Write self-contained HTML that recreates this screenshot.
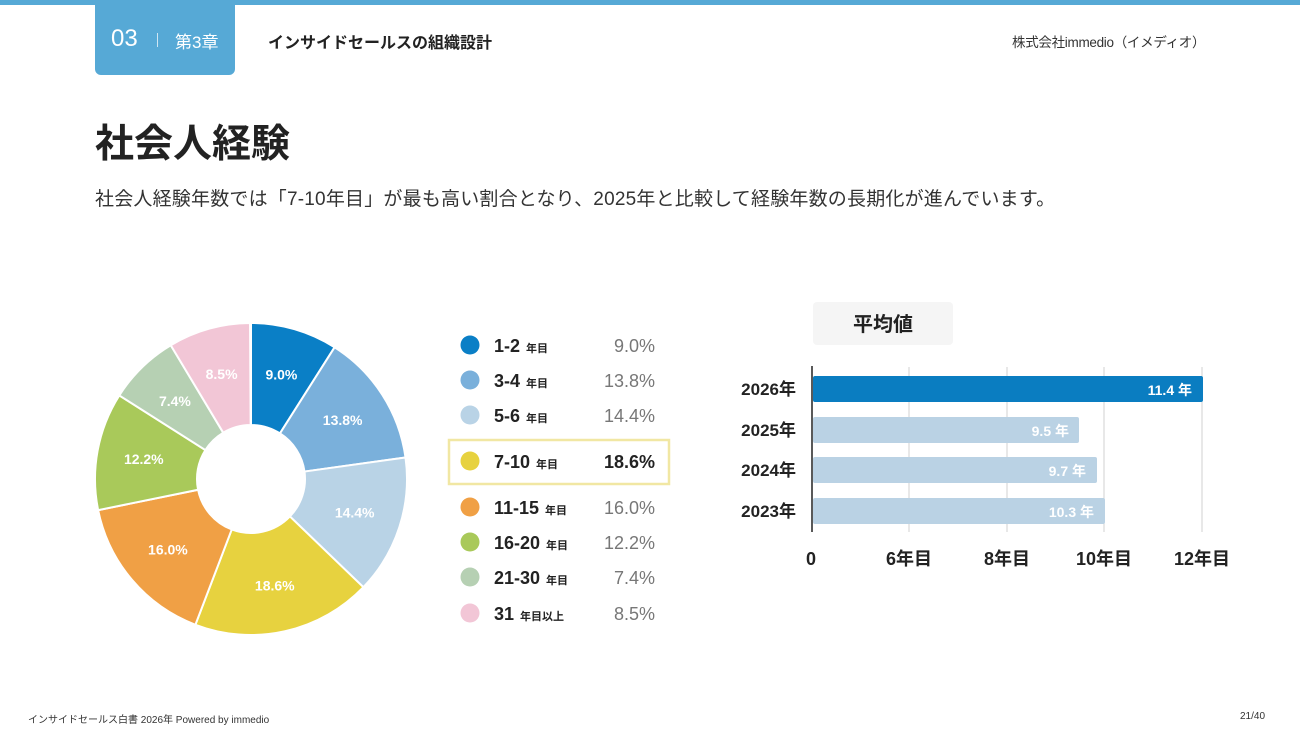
<!DOCTYPE html>
<html><head><meta charset="utf-8">
<style>
body{margin:0;width:1300px;height:731px;background:#fff;position:relative;overflow:hidden;font-family:"Liberation Sans","Noto Sans CJK JP",sans-serif;color:#222}
.abs{position:absolute;white-space:nowrap}
</style></head><body>
<div class="abs" style="left:0;top:0;width:1300px;height:5px;background:#56a9d6"></div>
<div class="abs" style="left:95px;top:0;width:140px;height:75px;background:#56a9d6;border-radius:0 0 6px 6px"></div>
<div class="abs" style="left:111px;top:25px;font-size:24px;color:#fff">03</div>
<div class="abs" style="left:157px;top:33px;width:1px;height:14px;background:#cfe6f3"></div>
<div class="abs" style="left:175px;top:28px;font-size:17px;color:#fff">第3章</div>
<div class="abs" style="left:268px;top:29px;font-size:16px;font-weight:bold">インサイドセールスの組織設計</div>
<div class="abs" style="left:1012px;top:31px;font-size:13.5px;color:#333;letter-spacing:-0.3px">株式会社immedio（イメディオ）</div>
<div class="abs" style="left:95px;top:113px;font-size:39px;font-weight:bold;color:#222">社会人経験</div>
<div class="abs" style="left:95px;top:184px;font-size:19px;color:#333;letter-spacing:0.2px">社会人経験年数では「7-10年目」が最も高い割合となり、2025年と比較して経験年数の長期化が進んでいます。</div>
<div class="abs" style="left:28px;top:711px;font-size:10px;color:#333">インサイドセールス白書 2026年 Powered by immedio</div>
<div class="abs" style="left:1240px;top:711px;font-size:10px;color:#333">21/40</div>

<svg class="abs" style="left:0;top:0" width="1300" height="731" id="s">
<rect x="449" y="440" width="220" height="44" fill="none" stroke="#f1e7a3" stroke-width="2.5"/>
<rect x="813" y="302" width="140" height="43" rx="4" fill="#f5f5f5"/>
<text x="883" y="331" font-size="20" font-weight="bold" text-anchor="middle" fill="#222">平均値</text>
<g stroke="#d0d0d0" stroke-width="1"><line x1="909" y1="367" x2="909" y2="532"/><line x1="1007" y1="367" x2="1007" y2="532"/><line x1="1104" y1="367" x2="1104" y2="532"/><line x1="1202" y1="367" x2="1202" y2="532"/></g>
<rect x="813" y="376" width="390" height="26" rx="2" fill="#0a7dc1"/>
<rect x="813" y="417" width="266" height="26" rx="2" fill="#bad2e4"/>
<rect x="813" y="457" width="284" height="26" rx="2" fill="#bad2e4"/>
<rect x="813" y="498" width="292" height="26" rx="2" fill="#bad2e4"/>
<line x1="812" y1="366" x2="812" y2="532" stroke="#222" stroke-width="1.5"/>
<g font-size="14" font-weight="bold" fill="#fff" text-anchor="end"><text x="1192" y="395">11.4 年</text><text x="1069" y="436">9.5 年</text><text x="1086" y="476">9.7 年</text><text x="1094" y="517">10.3 年</text></g>
<g font-size="17" font-weight="bold" fill="#222" text-anchor="end"><text x="796" y="395">2026年</text><text x="796" y="436">2025年</text><text x="796" y="476">2024年</text><text x="796" y="517">2023年</text></g>
<g font-size="18" font-weight="bold" fill="#222" text-anchor="middle"><text x="811" y="565">0</text><text x="909" y="565">6年目</text><text x="1007" y="565">8年目</text><text x="1104" y="565">10年目</text><text x="1202" y="565">12年目</text></g>
<g id="pie"></g><g id="leg"></g>
</svg>
<script>
var d=[[9.0,"#0a7fc6","1-2"],[13.8,"#7ab0db","3-4"],[14.4,"#b9d3e6","5-6"],[18.6,"#e7d23f","7-10"],[16.0,"#f0a045","11-15"],[12.2,"#a9c95a","16-20"],[7.4,"#b6d0b3","21-30"],[8.5,"#f2c6d6","31"]];
var cx=251,cy=479,R=156,r=54,a=0,h="",L="",ys=[345,380,415,461,507,542,577,613];
function p(an,rr){var t=(an/100*360-90)*Math.PI/180;return [cx+rr*Math.cos(t),cy+rr*Math.sin(t)];}
d.forEach(function(e,i){var b=a+e[0],l=e[0]>50?1:0,A=p(a,R),B=p(b,R),C=p(b,r),D=p(a,r);
h+='<path d="M'+A+' A'+R+' '+R+' 0 '+l+' 1 '+B+' L'+C+' A'+r+' '+r+' 0 '+l+' 0 '+D+'Z" fill="'+e[1]+'" stroke="#fff" stroke-width="2"/>';
var m=p(a+e[0]/2,(R+r)/2+4);h+='<text x="'+m[0]+'" y="'+(m[1]+5)+'" font-size="14" font-weight="bold" fill="#fff" text-anchor="middle">'+e[0].toFixed(1)+'%</text>';
a=b;var y=ys[i],hi=i==3;
L+='<circle cx="470" cy="'+y+'" r="9.5" fill="'+e[1]+'"/><text x="494" y="'+(y+7)+'" font-size="18" font-weight="bold" fill="#222">'+e[2]+'<tspan font-size="11" dx="6">'+(i==7?'年目以上':'年目')+'</tspan></text><text x="655" y="'+(y+7)+'" font-size="18" text-anchor="end" fill="'+(hi?'#222':'#777')+'"'+(hi?' font-weight="bold"':'')+'>'+e[0].toFixed(1)+'%</text>';});
document.getElementById('pie').innerHTML=h;document.getElementById('leg').innerHTML=L;
</script>
</body></html>
